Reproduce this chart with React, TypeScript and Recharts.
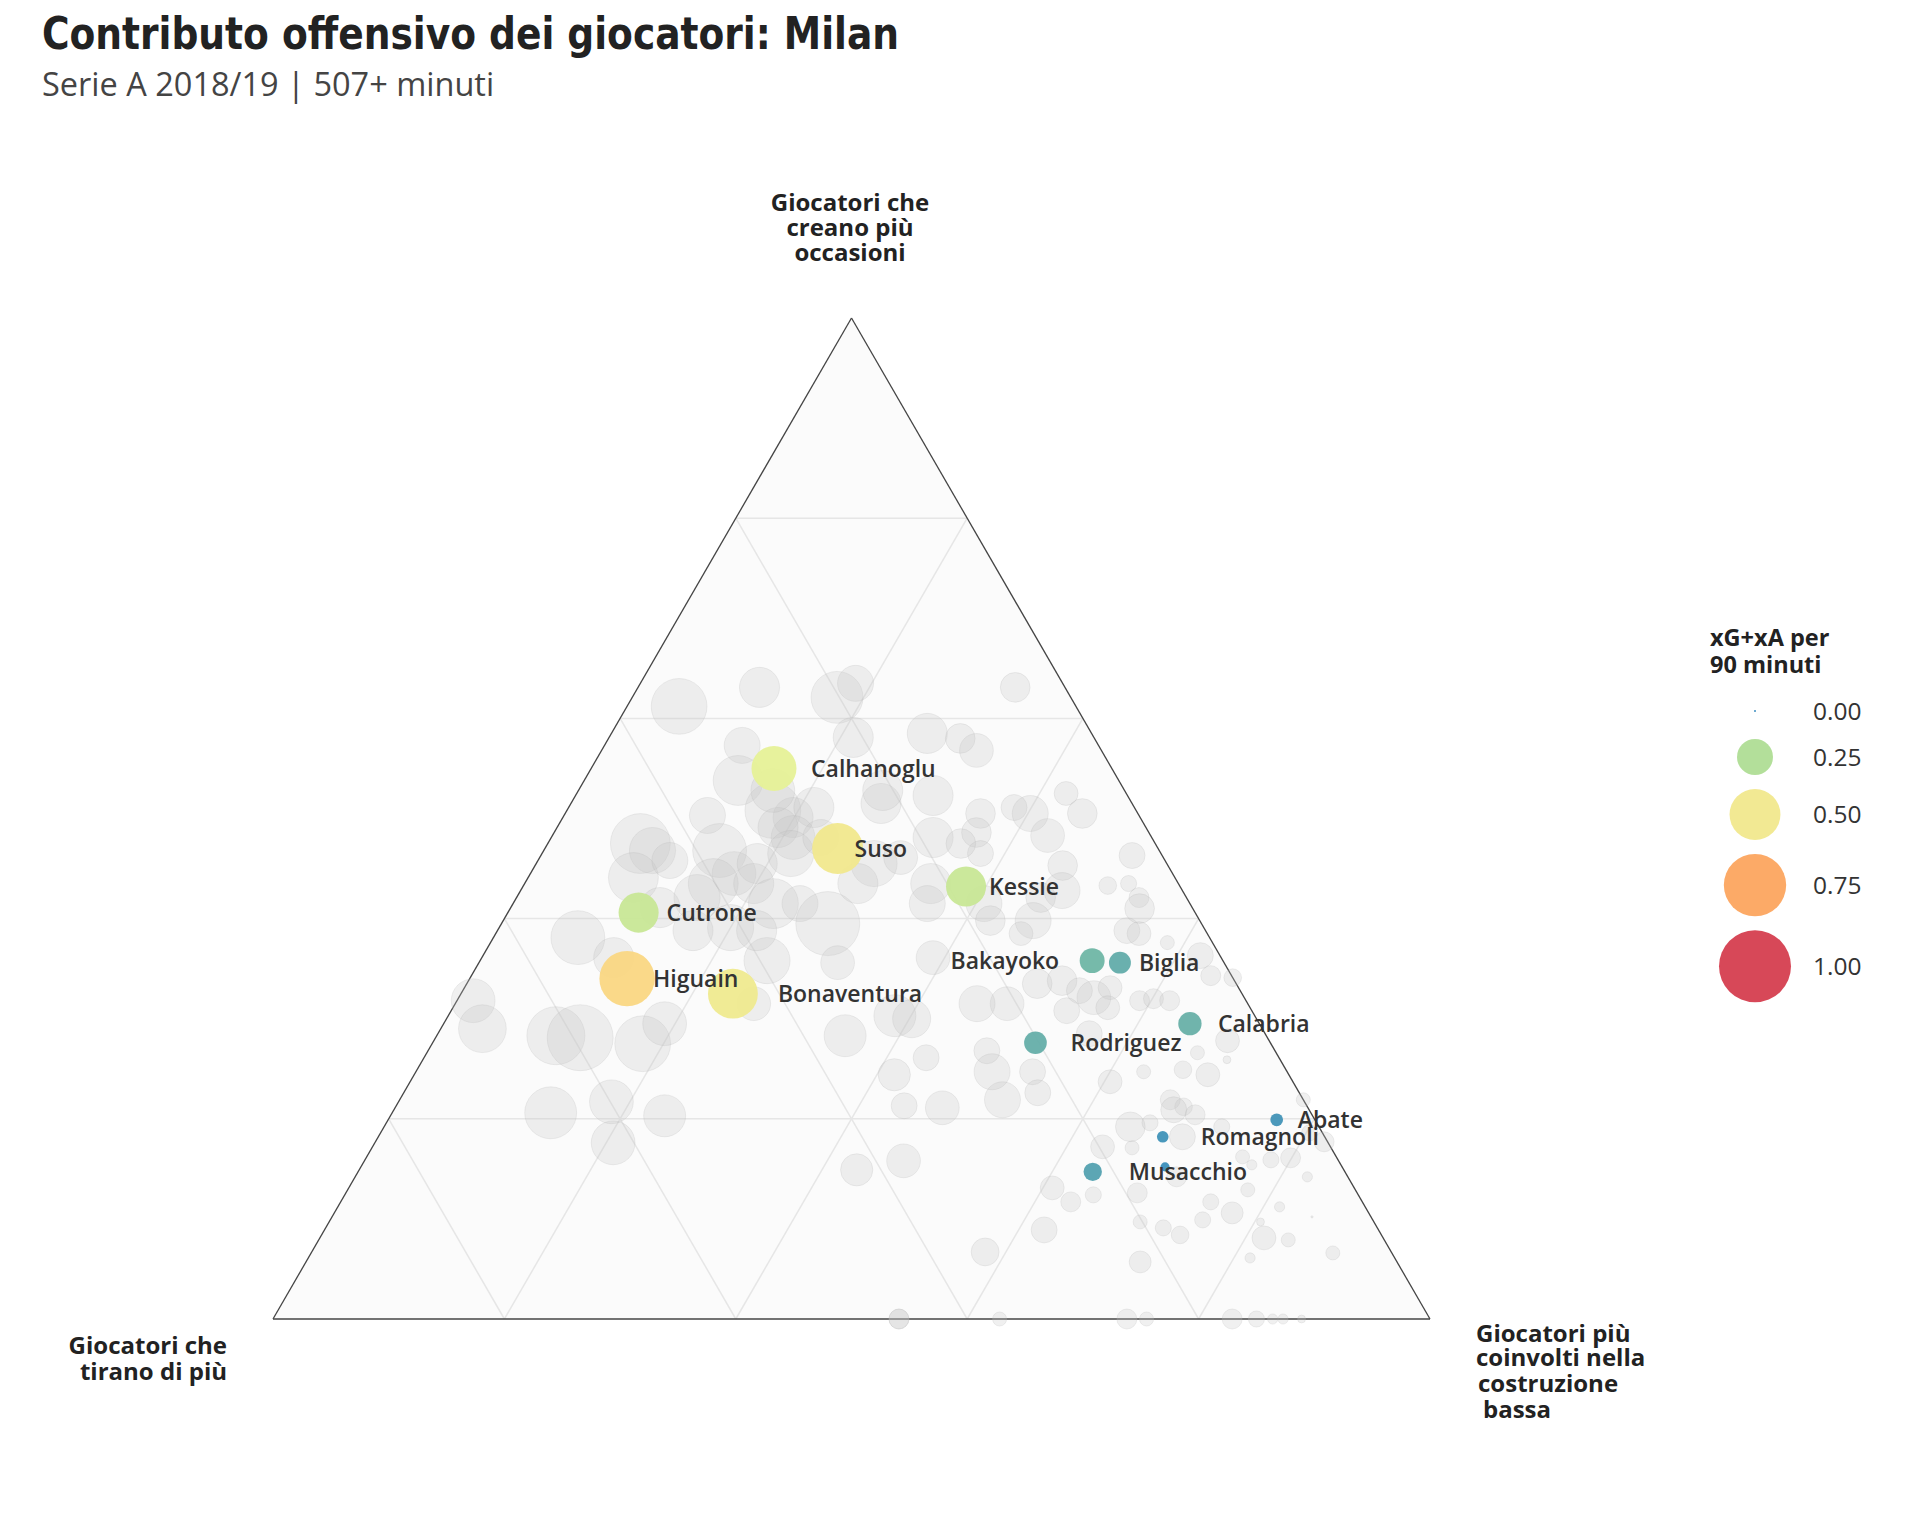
import { Area, ComposedChart, ReferenceLine, Scatter, XAxis, YAxis } from "recharts";

const H = Math.sqrt(3) / 2;

// Milan players: share on each ternary axis and xG+xA per 90
const milanNames = [
  "Calhanoglu", "Suso", "Kessie", "Cutrone", "Higuain", "Bonaventura", "Bakayoko",
  "Biglia", "Calabria", "Rodriguez", "Abate", "Romagnoli", "Musacchio", "",
];
const milanCreano = [0.55, 0.47, 0.432, 0.406, 0.34, 0.325, 0.358, 0.356, 0.295, 0.276, 0.199, 0.182, 0.147, 0.152];
const milanTirano = [0.292, 0.277, 0.185, 0.481, 0.524, 0.44, 0.113, 0.09, 0.06, 0.203, 0.033, 0.14, 0.218, 0.153];
const milanCostruzione = [0.158, 0.253, 0.383, 0.113, 0.136, 0.235, 0.529, 0.554, 0.645, 0.521, 0.768, 0.678, 0.635, 0.695];
const milanXgxa = [0.39, 0.5, 0.31, 0.31, 0.59, 0.48, 0.12, 0.093, 0.105, 0.099, 0.031, 0.026, 0.065, 0.016];

// rest of the league (grey)
const greyCreano = [
  0.612, 0.631, 0.621, 0.635, 0.573, 0.581, 0.538, 0.508, 0.501, 0.511, 0.503, 0.515, 0.475, 0.468, 0.441, 0.458,
  0.468, 0.481, 0.491, 0.445, 0.455, 0.435, 0.421, 0.435, 0.415, 0.415, 0.395, 0.391, 0.388, 0.411, 0.381, 0.358,
  0.356, 0.361, 0.388, 0.465, 0.455, 0.435, 0.528, 0.528, 0.318, 0.481, 0.29, 0.283, 0.281, 0.275, 0.295, 0.206,
  0.217, 0.176, 0.203, 0.315, 0.283, 0.303, 0.3, 0.244, 0.261, 0.213, 0.211, 0.149, 0.158, 0, 0.067, 0.631,
  0.585, 0.58, 0.568, 0.523, 0.505, 0.511, 0.505, 0.525, 0.505, 0.483, 0.453, 0.481, 0.486, 0.465, 0.435, 0.415,
  0.415, 0.421, 0.428, 0.463, 0.433, 0.435, 0.421, 0.41, 0.388, 0.385, 0.376, 0.398, 0.385, 0.398, 0.361, 0.363,
  0.343, 0.341, 0.335, 0.338, 0.328, 0.321, 0.331, 0.318, 0.32, 0.318, 0.315, 0.315, 0.308, 0.311, 0.475, 0.461,
  0.268, 0.247, 0.247, 0.219, 0.226, 0.285, 0.237, 0.247, 0.249, 0.244, 0.266, 0.278, 0.259, 0.219, 0.212, 0.204,
  0.209, 0.192, 0.196, 0.182, 0.192, 0.171, 0.172, 0.162, 0.154, 0.159, 0.161, 0.142, 0.177, 0.219, 0.186, 0.142,
  0.126, 0.131, 0.117, 0.124, 0.117, 0.106, 0.129, 0.112, 0.097, 0.091, 0.084, 0.099, 0.097, 0.081, 0.079, 0.066,
  0.061, 0.089, 0.057, 0, 0, 0, 0, 0, 0, 0, 0, 0, 0.102,
];
const greyCostruzione = [
  0.045, 0.105, 0.177, 0.186, 0.119, 0.211, 0.133, 0.178, 0.199, 0.212, 0.124, 0.268, 0.08, 0.094, 0.091, 0.114,
  0.152, 0.209, 0.191, 0.176, 0.191, 0.163, 0.156, 0.198, 0.225, 0.248, 0.282, 0.2, 0.169, 0.129, 0.073, 0.248,
  0.31, 0.114, 0.224, 0.215, 0.292, 0.288, 0.263, 0.168, 0.014, 0.233, 0.036, 0.103, 0.125, 0.182, 0.191, 0.137,
  0.184, 0.206, 0.237, 0.258, 0.353, 0.386, 0.402, 0.415, 0.434, 0.439, 0.473, 0.43, 0.466, 0.541, 0.582, 0.326,
  0.273, 0.304, 0.324, 0.309, 0.359, 0.385, 0.402, 0.423, 0.447, 0.428, 0.456, 0.33, 0.365, 0.379, 0.351, 0.358,
  0.407, 0.453, 0.468, 0.511, 0.505, 0.522, 0.538, 0.544, 0.544, 0.556, 0.585, 0.458, 0.454, 0.421, 0.39, 0.62,
  0.639, 0.659, 0.493, 0.513, 0.533, 0.549, 0.558, 0.59, 0.601, 0.616, 0.477, 0.451, 0.532, 0.566, 0.357, 0.312,
  0.483, 0.498, 0.533, 0.521, 0.548, 0.563, 0.605, 0.629, 0.662, 0.686, 0.666, 0.686, 0.695, 0.666, 0.681, 0.695,
  0.674, 0.645, 0.66, 0.695, 0.724, 0.657, 0.631, 0.757, 0.769, 0.783, 0.799, 0.823, 0.82, 0.781, 0.803, 0.71,
  0.684, 0.608, 0.631, 0.647, 0.752, 0.776, 0.778, 0.814, 0.701, 0.724, 0.742, 0.754, 0.805, 0.816, 0.838, 0.883,
  0.814, 0.622, 0.721, 0.541, 0.628, 0.738, 0.755, 0.829, 0.85, 0.864, 0.873, 0.889, 0.847,
];
const greyTirano = [
  0.343, 0.264, 0.202, 0.179, 0.308, 0.208, 0.329, 0.314, 0.3, 0.277, 0.373, 0.217, 0.445, 0.438, 0.468, 0.428,
  0.38, 0.31, 0.318, 0.379, 0.354, 0.402, 0.423, 0.367, 0.36, 0.337, 0.323, 0.409, 0.443, 0.46, 0.546, 0.394,
  0.334, 0.525, 0.388, 0.32, 0.253, 0.277, 0.209, 0.304, 0.668, 0.286, 0.674, 0.614, 0.594, 0.543, 0.514, 0.657,
  0.599, 0.618, 0.56, 0.427, 0.364, 0.311, 0.298, 0.341, 0.305, 0.348, 0.316, 0.421, 0.376, 0.459, 0.351, 0.043,
  0.142, 0.116, 0.108, 0.168, 0.136, 0.104, 0.093, 0.052, 0.048, 0.089, 0.091, 0.189, 0.149, 0.156, 0.214, 0.227,
  0.178, 0.126, 0.104, 0.026, 0.062, 0.043, 0.041, 0.046, 0.068, 0.059, 0.039, 0.144, 0.161, 0.181, 0.249, 0.017,
  0.018, 0, 0.172, 0.149, 0.139, 0.13, 0.111, 0.092, 0.079, 0.066, 0.208, 0.234, 0.16, 0.123, 0.168, 0.227,
  0.249, 0.255, 0.22, 0.26, 0.226, 0.152, 0.158, 0.124, 0.089, 0.07, 0.068, 0.036, 0.046, 0.115, 0.107, 0.101,
  0.117, 0.163, 0.144, 0.123, 0.084, 0.172, 0.197, 0.081, 0.077, 0.058, 0.04, 0.035, 0.003, 0, 0.011, 0.148,
  0.19, 0.261, 0.252, 0.229, 0.131, 0.118, 0.093, 0.074, 0.202, 0.185, 0.174, 0.147, 0.098, 0.103, 0.083, 0.051,
  0.125, 0.289, 0.222, 0.459, 0.372, 0.262, 0.245, 0.171, 0.15, 0.136, 0.127, 0.111, 0.051,
];
const greyXgxa = [
  0.6, 0.31, 0.52, 0.25, 0.25, 0.31, 0.48, 0.6, 0.31, 0.31, 0.25, 0.31, 0.69, 0.41, 0.48, 0.25,
  0.56, 0.37, 0.31, 0.37, 0.31, 0.48, 0.41, 0.31, 0.48, 0.25, 0.79, 0.41, 0.31, 0.31, 0.56, 0.41,
  0.22, 0.31, 0.31, 0.41, 0.41, 0.31, 0.31, 0.37, 0.37, 0.25, 0.44, 0.65, 0.84, 0.6, 0.37, 0.52,
  0.37, 0.37, 0.34, 0.22, 0.34, 0.34, 0.28, 0.2, 0.13, 0.13, 0.22, 0.2, 0.22, 0.077, 0.15, 0.17,
  0.31, 0.17, 0.22, 0.31, 0.17, 0.13, 0.25, 0.11, 0.17, 0.22, 0.17, 0.31, 0.17, 0.13, 0.31, 0.25,
  0.25, 0.17, 0.25, 0.13, 0.06, 0.05, 0.077, 0.17, 0.13, 0.11, 0.038, 0.25, 0.11, 0.17, 0.22, 0.13,
  0.077, 0.06, 0.17, 0.17, 0.13, 0.22, 0.11, 0.077, 0.077, 0.077, 0.22, 0.25, 0.13, 0.11, 0.17, 0.22,
  0.13, 0.25, 0.13, 0.25, 0.13, 0.13, 0.11, 0.038, 0.06, 0.11, 0.038, 0.11, 0.012, 0.077, 0.06, 0.077,
  0.13, 0.17, 0.05, 0.13, 0.05, 0.038, 0.11, 0.038, 0.02, 0.05, 0.077, 0.02, 0.077, 0.038, 0.05, 0.077,
  0.077, 0.11, 0.077, 0.05, 0.05, 0.093, 0.038, 0.02, 0.038, 0.05, 0.06, 0.05, 0.012, 0.11, 0.038, 0.038,
  0.02, 0.13, 0.093, 0.077, 0.038, 0.077, 0.038, 0.077, 0.05, 0.02, 0.02, 0.012, 0.001,
];

const gridLevels = [0.2, 0.4, 0.6, 0.8];
const legendValues = [0, 0.25, 0.5, 0.75, 1];

// label placement next to each Milan marker (px from centre, negative = left side)
const labelOffset: Record<string, number> = {
  Calhanoglu: 37, Suso: 17, Kessie: 23, Cutrone: 28, Higuain: 26, Bonaventura: 45,
  Bakayoko: -33, Biglia: 19, Calabria: 28, Rodriguez: 35, Abate: 21, Romagnoli: 38, Musacchio: 36,
};

const spectral: [number, string][] = [
  [0, "#3288bd"], [0.125, "#72b8a4"], [0.25, "#afdd95"], [0.375, "#e4f298"], [0.5, "#f1e88d"],
  [0.625, "#fdd07f"], [0.75, "#fca55f"], [0.875, "#ef6f4c"], [1, "#d53e4f"],
];

function hex(c: string) {
  return [1, 3, 5].map((i) => parseInt(c.slice(i, i + 2), 16));
}

function colorFor(v: number) {
  const t = Math.max(0, Math.min(1, v));
  for (let i = 1; i < spectral.length; i++) {
    const [t1, c1] = spectral[i];
    const [t0, c0] = spectral[i - 1];
    if (t <= t1) {
      const f = (t - t0) / (t1 - t0);
      const a = hex(c0);
      const b = hex(c1);
      return `rgb(${a.map((x, k) => Math.round(x + (b[k] - x) * f)).join(",")})`;
    }
  }
  return spectral[spectral.length - 1][1];
}

const radiusFor = (v: number) => Math.max(1, 36 * Math.sqrt(v));

function toXY(a: number, b: number, c: number) {
  const s = a + b + c;
  return { x: (c + a / 2) / s, y: (a / s) * H };
}

const greyData = greyCreano.map((a, i) => ({
  ...toXY(a, greyTirano[i], greyCostruzione[i]),
  v: greyXgxa[i],
}));

const milanData = milanNames.map((name, i) => ({
  ...toXY(milanCreano[i], milanTirano[i], milanCostruzione[i]),
  v: milanXgxa[i],
  name,
}));

const triangle = [
  { x: 0, y: 0 },
  { x: 0.5, y: H },
  { x: 1, y: 0 },
];

// grid lines for the three ternary axes
const gridSegments = gridLevels.flatMap((k) => [
  [{ x: k / 2, y: k * H }, { x: 1 - k / 2, y: k * H }],
  [{ x: k, y: 0 }, { x: k + (1 - k) / 2, y: (1 - k) * H }],
  [{ x: 1 - k, y: 0 }, { x: (1 - k) / 2, y: (1 - k) * H }],
]);

const edges = [
  [triangle[0], triangle[1]],
  [triangle[1], triangle[2]],
  [triangle[2], triangle[0]],
];

const sans = "'Open Sans', 'Noto Sans', sans-serif";

const GreyDot = (props: any) => {
  const { cx, cy, payload } = props;
  return (
    <circle
      cx={cx}
      cy={cy}
      r={radiusFor(payload.v)}
      fill="#c4c4c4"
      fillOpacity={0.26}
      stroke="#b0b0b0"
      strokeOpacity={0.2}
      strokeWidth={1}
    />
  );
};

const MilanDot = (props: any) => {
  const { cx, cy, payload } = props;
  return <circle cx={cx} cy={cy} r={radiusFor(payload.v)} fill={colorFor(payload.v)} fillOpacity={0.95} />;
};

const MilanLabel = (props: any) => {
  const { cx, cy, payload } = props;
  const off = labelOffset[payload.name];
  if (!payload.name || off === undefined) return <g />;
  return (
    <text
      x={cx + off}
      y={cy}
      dy="0.35em"
      textAnchor={off < 0 ? "end" : "start"}
      fontFamily={sans}
      fontSize={23}
      fontWeight={600}
      fill="#333"
    >
      {payload.name}
    </text>
  );
};

function Legend() {
  let y = 711;
  const items = legendValues.map((v, i) => {
    if (i > 0) y += Math.max(radiusFor(legendValues[i - 1]), 14) + Math.max(radiusFor(v), 14) + 14;
    return { v, y };
  });
  return (
    <g>
      <text x={1710} y={646} fontFamily={sans} fontWeight={700} fontSize={23.5} fill="#222">
        xG+xA per
      </text>
      <text x={1710} y={673} fontFamily={sans} fontWeight={700} fontSize={23.5} fill="#222">
        90 minuti
      </text>
      {items.map(({ v, y }) => (
        <g key={v}>
          <circle cx={1755} cy={y} r={radiusFor(v)} fill={colorFor(v)} fillOpacity={0.95} />
          <text x={1813} y={y} dy="0.35em" fontFamily={sans} fontSize={24.5} fill="#333">
            {v.toFixed(2)}
          </text>
        </g>
      ))}
    </g>
  );
}

export default function App() {
  return (
    <div style={{ position: "absolute", left: 0, top: 0, width: 1920, height: 1536, background: "#fff" }}>
      <ComposedChart
        width={1920}
        height={1536}
        data={triangle}
        margin={{ top: 318, left: 273, right: 490, bottom: 217 }}
      >
        <XAxis type="number" dataKey="x" domain={[0, 1]} hide />
        <YAxis type="number" dataKey="y" domain={[0, H]} hide />
        <Area type="linear" dataKey="y" stroke="none" fill="#fbfbfb" fillOpacity={1} isAnimationActive={false} activeDot={false} />
        {gridSegments.map((seg, i) => (
          <ReferenceLine key={`g${i}`} segment={seg} stroke="#e6e6e6" strokeWidth={1.5} ifOverflow="visible" />
        ))}
        <Scatter data={greyData} shape={GreyDot} isAnimationActive={false} />
        <Scatter data={milanData} shape={MilanDot} isAnimationActive={false} />
        <Scatter data={milanData} shape={MilanLabel} isAnimationActive={false} />
        {edges.map((seg, i) => (
          <ReferenceLine key={`e${i}`} segment={seg} stroke="#444" strokeWidth={1.3} ifOverflow="visible" />
        ))}
      </ComposedChart>
      <svg width={1920} height={1536} style={{ position: "absolute", left: 0, top: 0, pointerEvents: "none" }}>
        <text
          x={42}
          y={49}
          fontFamily="'Liberation Sans Narrow', 'DejaVu Sans Condensed', sans-serif"
          fontWeight={700}
          fontSize={44}
          fill="#222"
          textLength={857}
          lengthAdjust="spacingAndGlyphs"
        >
          Contributo offensivo dei giocatori: Milan
        </text>
        <text x={42} y={96} fontFamily={sans} fontSize={32.5} fill="#444">
          Serie A 2018/19 | 507+ minuti
        </text>
        <g fontFamily={sans} fontWeight={700} fontSize={24} fill="#222">
          <text x={850} y={211} textAnchor="middle">Giocatori che</text>
          <text x={850} y={236} textAnchor="middle">creano più</text>
          <text x={850} y={261} textAnchor="middle">occasioni</text>
          <text x={227} y={1354} textAnchor="end">Giocatori che</text>
          <text x={227} y={1380} textAnchor="end">tirano di più</text>
          <text x={1476} y={1342}>Giocatori più</text>
          <text x={1476} y={1366}>coinvolti nella</text>
          <text x={1478} y={1392}>costruzione</text>
          <text x={1483} y={1418}>bassa</text>
        </g>
        <Legend />
      </svg>
    </div>
  );
}
